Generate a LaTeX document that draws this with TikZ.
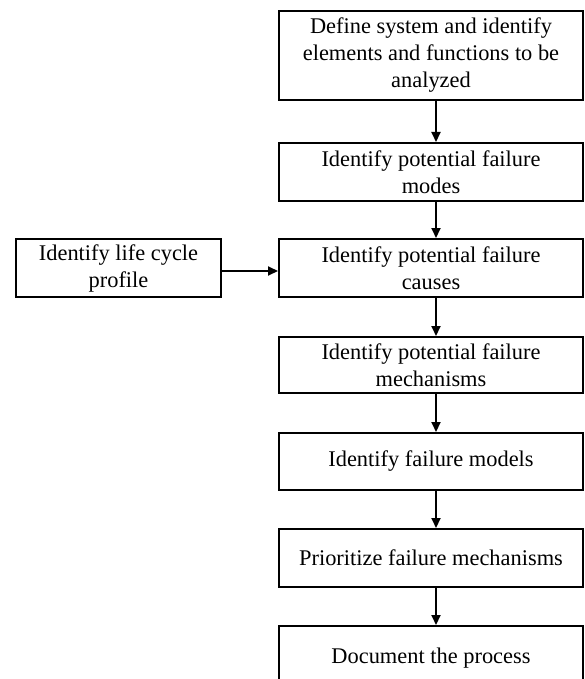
\documentclass[tikz,border=0pt]{standalone}
\usepackage{fontspec}
\setmainfont{Liberation Serif}
\usetikzlibrary{arrows.meta}

\begin{document}
\begin{tikzpicture}[x=0.5pt,y=-0.5pt,
  stepbox/.style={draw,line width=1pt,inner sep=0pt,minimum width=152pt,
    align=center,font=\fontsize{11.2pt}{13.5pt}\selectfont},
  flow/.style={-{Triangle[length=5pt,width=4.5pt]},line width=1pt}]
\clip (0,0) rectangle (584,679);
\pgfmathsetmacro{\colx}{431}
\pgfmathsetmacro{\lefx}{118.5}
\node[stepbox,minimum height=44.5pt] (define) at (\colx,55.5) {Define system and identify\\elements and functions to be\\analyzed};
\node[stepbox,minimum height=29pt] (modes) at (\colx,172) {Identify potential failure\\modes};
\node[stepbox,minimum height=29pt] (causes) at (\colx,268) {Identify potential failure\\causes};
\node[stepbox,minimum height=28pt] (mechs) at (\colx,365) {Identify potential failure\\mechanisms};
\node[stepbox,minimum height=28.5pt] (models) at (\colx,461.5) {Identify failure models};
\node[stepbox,minimum height=29pt] (prior) at (\colx,558) {Prioritize failure mechanisms};
\node[stepbox,minimum height=32pt] (doc) at (\colx,658) {Document the process};
\node[stepbox,minimum width=102.5pt,minimum height=29pt] (life) at (\lefx,268) {Identify life cycle\\profile};
% Arrows
\draw[flow] ([xshift=2.5pt]define.south) -- ([xshift=2.5pt]modes.north);
\draw[flow] ([xshift=2.5pt]modes.south) -- ([xshift=2.5pt]causes.north);
\draw[flow] ([xshift=2.5pt]causes.south) -- ([xshift=2.5pt]mechs.north);
\draw[flow] ([xshift=2.5pt]mechs.south) -- ([xshift=2.5pt]models.north);
\draw[flow] ([xshift=2.5pt]models.south) -- ([xshift=2.5pt]prior.north);
\draw[flow] ([xshift=2.5pt]prior.south) -- ([xshift=2.5pt]doc.north);
\draw[flow] ([yshift=-1.5pt]life.east) -- ([yshift=-1.5pt]causes.west);
\end{tikzpicture}
\end{document}
